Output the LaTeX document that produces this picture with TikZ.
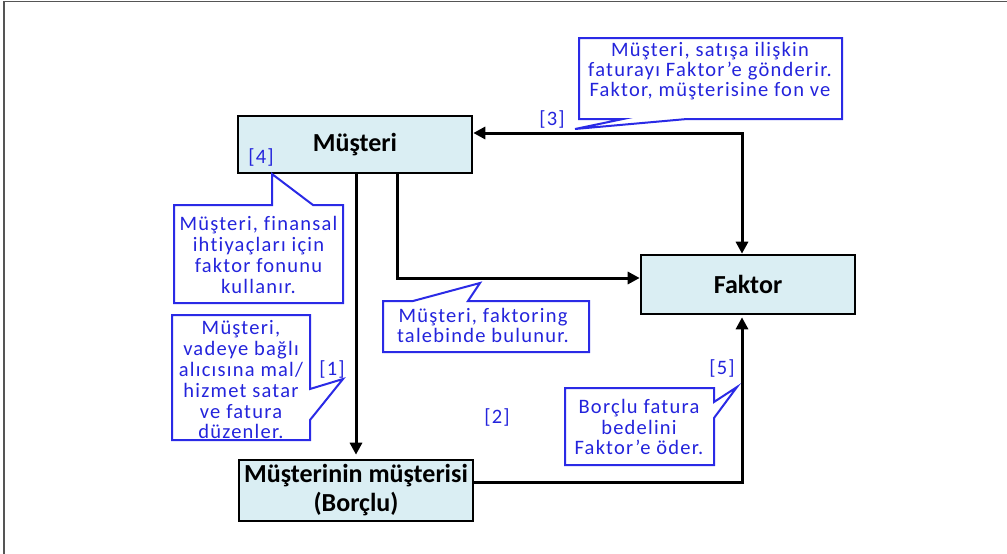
\documentclass[tikz,border=0pt]{standalone}
\usepackage{fontspec}
\setmainfont{Carlito}
\newfontfamily\callfont[LetterSpace=6,Ligatures=NoCommon]{Carlito}
\usetikzlibrary{arrows.meta,calc}
\definecolor{boxfill}{HTML}{DAEEF3}
\definecolor{callblue}{HTML}{2A2AE6}
\definecolor{txtblue}{HTML}{2424DC}
\definecolor{framegray}{HTML}{555555}
\begin{document}
\begin{tikzpicture}[x=1pt,y=-1pt,
  box/.style={draw=black, line width=2.6pt, fill=boxfill, inner sep=0pt, align=center,
              font=\fontsize{26}{29}\selectfont\bfseries},
  tip/.tip={Triangle[length=12pt,width=12pt]},
  conn/.style={draw=black, line width=3pt, -tip},
  callout/.style={draw=callblue, line width=2pt, fill=white, line join=miter},
  ctext/.style={text=txtblue, align=center, inner sep=0pt},
  lbl/.style={text=txtblue, inner sep=0pt, font=\callfont\fontsize{20.5}{21}\selectfont}]
\useasboundingbox (0,0) rectangle (1007,554);
% outer frame
\draw[framegray, line width=1.6pt] (4,554) -- (4,1.5) -- (1007,1.5);

% boxes
\node[box, minimum width=234pt, minimum height=57pt] (mus) at (355,144.5) {Müşteri};
\node[box, minimum width=214pt, minimum height=59pt] (fak) at (748,284.5) {Faktor};
\node[box, minimum width=234pt, minimum height=61pt] (bor) at (356,490.5) {Müşterinin müşterisi\\(Borçlu)};

% connectors
\coordinate (k3) at (742,133);
\draw[conn, tip-tip] (mus.east |- k3) -- (k3) -- (k3 |- fak.north);
\coordinate (k1) at (397,278);
\draw[conn] (k1 |- mus.south) -- (k1) -- (k1 -| fak.west);
\coordinate (k2) at (356,300);
\draw[conn, shorten >=4pt] (k2 |- mus.south) -- (k2 |- bor.north);
\coordinate (k5) at (742,482);
\draw[conn, shorten >=2pt] (bor.east |- k5) -- (k5) -- (k5 |- fak.south);

% callouts
\draw[callout] (579,38) -- (842,38) -- (842,119) -- (687,119) -- (575,129) -- (623,119) -- (579,119) -- cycle;
\draw[callout] (174,205) -- (272,205) -- (272,174) -- (313,205) -- (343,205) -- (343,303) -- (174,303) -- cycle;
\draw[callout] (172,315) -- (310,315) -- (310,389) -- (343,379) -- (310,420) -- (310,440) -- (172,440) -- cycle;
\draw[callout] (383,301) -- (413,301) -- (480,283) -- (468,301) -- (589,301) -- (589,352) -- (383,352) -- cycle;
\draw[callout] (565,388) -- (714,388) -- (714,402) -- (737,387) -- (714,418) -- (714,465) -- (565,465) -- cycle;

% callout texts
\node[ctext, font=\callfont\fontsize{20.5}{20}\selectfont] (c3t) at (710,71) {Müşteri, satışa ilişkin\\faturayı Faktor’e gönderir.\\Faktor, müşterisine fon ve};
\node[ctext, font=\callfont\fontsize{20.5}{21.3}\selectfont] (c4t) at (258.5,255) {Müşteri, finansal\\ihtiyaçları için\\faktor fonunu\\kullanır.};
\node[ctext, font=\callfont\fontsize{20.5}{20.8}\selectfont] (c1t) at (241,380) {Müşteri,\\vadeye bağlı\\alıcısına mal/\\hizmet satar\\ve fatura\\düzenler.};
\node[ctext, font=\callfont\fontsize{20.5}{19.5}\selectfont] (cft) at (483,325.5) {Müşteri, faktoring\\talebinde bulunur.};
\node[ctext, font=\callfont\fontsize{20.5}{20.5}\selectfont] (c5t) at (639,427) {Borçlu fatura\\bedelini\\Faktor’e öder.};

% step labels
\node[lbl] (l3) at (552,119) {[3]};
\node[lbl] (l4) at (261,157) {[4]};
\node[lbl] (l1) at (332,369) {[1]};
\node[lbl] (l2) at (497,417) {[2]};
\node[lbl] (l5) at (722,368) {[5]};
\end{tikzpicture}
\end{document}
